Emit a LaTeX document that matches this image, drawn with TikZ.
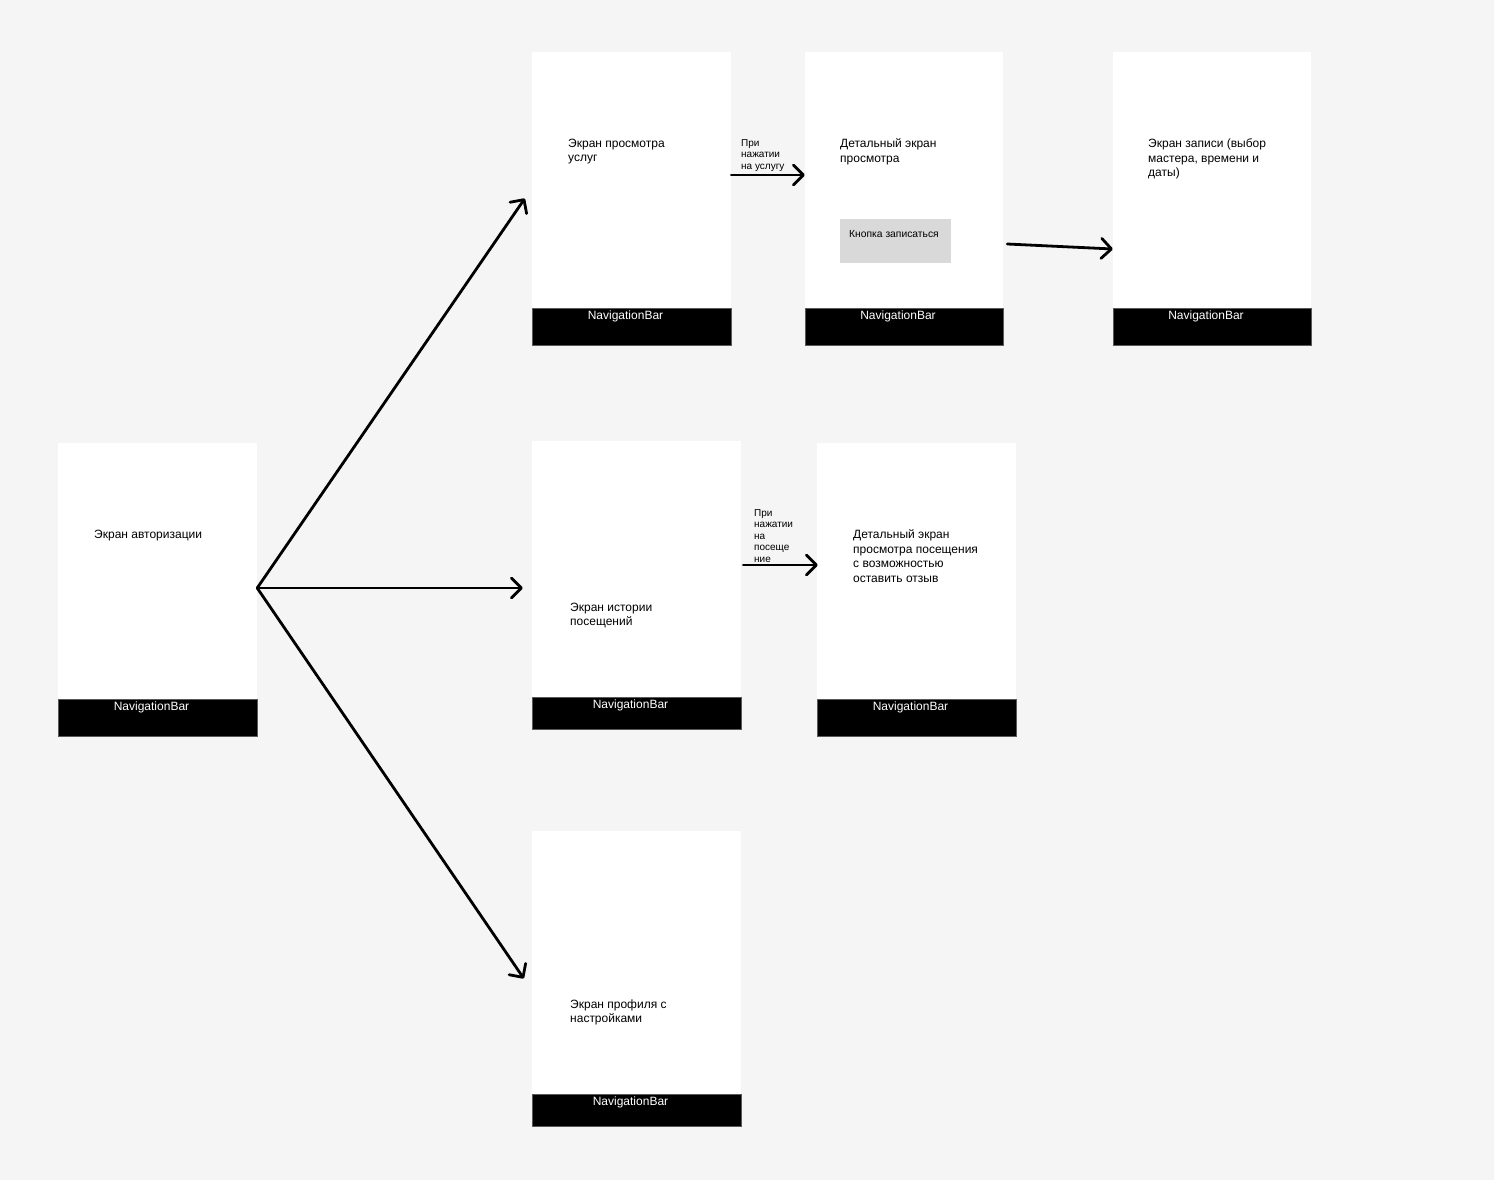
\documentclass[tikz,border=0pt]{standalone}
\usepackage{fontspec}
\setmainfont{Liberation Sans}
\usetikzlibrary{calc,arrows.meta}
\definecolor{bggray}{HTML}{F5F5F5}
\definecolor{btngray}{HTML}{D9D9D9}
\tikzset{
	screen/.style={fill=white, inner sep=0pt},
	navbar/.style={fill=black, draw=black!65, line width=0.7pt, inner sep=0pt, anchor=south},
	navtext/.style={text=white, inner sep=0pt, anchor=north, font=\fontsize{12}{14}\selectfont},
	lbl/.style={inner sep=0pt, anchor=north west, align=left, font=\fontsize{12}{14.5}\selectfont},
	note/.style={inner sep=0pt, anchor=north west, align=left, font=\fontsize{10}{11.5}\selectfont},
	flow/.style={line width=2.8pt, line cap=round, line join=round, -{Straight Barb[length=10pt,width=20pt,line cap=round,line join=round]}}
}

\begin{document}
\begin{tikzpicture}[x=1pt, y=-1pt]
	%background
	\fill[bggray] (0,0) rectangle (1494,1180);
	\useasboundingbox (0,0) rectangle (1494,1180);

	%screens
	\node (auth) [screen, minimum width=199pt, minimum height=293pt] at (157.5,589.5) {};
	\node (svc)  [screen, minimum width=199pt, minimum height=293pt] at (631.5,198.5) {};
	\node (det)  [screen, minimum width=198pt, minimum height=293pt] at (904,198.5) {};
	\node (book) [screen, minimum width=198pt, minimum height=293pt] at (1212,198.5) {};
	\node (hist) [screen, minimum width=209pt, minimum height=288pt] at (636.5,585) {};
	\node (vis)  [screen, minimum width=199pt, minimum height=293pt] at (916.5,589.5) {};
	\node (prof) [screen, minimum width=209pt, minimum height=295pt] at (636.5,978.5) {};

	%navigation bars
	\node (authbar) [navbar, minimum width=199pt, minimum height=37pt] at (auth.south) {};
	\node (svcbar)  [navbar, minimum width=199pt, minimum height=37pt] at (svc.south) {};
	\node (detbar)  [navbar, minimum width=198pt, minimum height=37pt] at (det.south) {};
	\node (bookbar) [navbar, minimum width=198pt, minimum height=37pt] at (book.south) {};
	\node (histbar) [navbar, minimum width=209pt, minimum height=32pt] at (hist.south) {};
	\node (visbar)  [navbar, minimum width=199pt, minimum height=37pt] at (vis.south) {};
	\node (profbar) [navbar, minimum width=209pt, minimum height=32pt] at (prof.south) {};
	\node [navtext] at ($(authbar.north)+(-6,3.5)$) {NavigationBar};
	\node [navtext] at ($(svcbar.north)+(-6,3.5)$)  {NavigationBar};
	\node [navtext] at ($(detbar.north)+(-6,3.5)$)  {NavigationBar};
	\node [navtext] at ($(bookbar.north)+(-6,3.5)$) {NavigationBar};
	\node [navtext] at ($(histbar.north)+(-6,3.5)$) {NavigationBar};
	\node [navtext] at ($(visbar.north)+(-6,3.5)$)  {NavigationBar};
	\node [navtext] at ($(profbar.north)+(-6,3.5)$) {NavigationBar};

	%button
	\node (btn) [fill=btngray, minimum width=111pt, minimum height=44pt, inner sep=0pt] at (895.5,241) {};
	\node [inner sep=0pt, anchor=north west, font=\fontsize{10.3}{12}\selectfont] at (849,230) {Кнопка записаться};

	%labels
	\node (authtxt) [lbl] at (94,529.5)   {Экран авторизации};
	\node (svctxt)  [lbl] at (568,138.5)  {Экран просмотра\\услуг};
	\node (dettxt)  [lbl] at (840,138.5)  {Детальный экран\\просмотра};
	\node (booktxt) [lbl] at (1148,138.5) {Экран записи (выбор\\мастера, времени и\\даты)};
	\node (histtxt) [lbl] at (570,602.5)  {Экран истории\\посещений};
	\node (vistxt)  [lbl] at (853,529.5)  {Детальный экран\\просмотра посещения\\с возможностью\\оставить отзыв};
	\node (proftxt) [lbl] at (570,999.5)  {Экран профиля с\\настройками};

	%arrows
	\coordinate (fork) at ($(auth.east)+(0,-1.5)$);
	\draw[flow] (fork) -- ($(svc.west)+(-7,0)$);
	\draw[flow] (fork) -- ($(hist.west)+(-9,3)$);
	\draw[flow] (fork) -- ($(prof.west)+(-8,0)$);
	\draw[flow] ($(svc.east)+(0,-23.5)$) -- ($(det.west)+(0,-23.5)$);
	\draw[flow] ($(det.east)+(4,45.5)$) -- ($(book.west)+(0,50.5)$);
	\draw[flow] ($(hist.east)+(2,-20)$) -- ($(vis.west)+(1,-24.5)$);
	\node (svcnote) [note] at (741,139) {При\\нажатии\\на услугу};
	\node (histnote) [note] at (754,509) {При\\нажатии\\на\\посеще\\ние};
\end{tikzpicture}
\end{document}
